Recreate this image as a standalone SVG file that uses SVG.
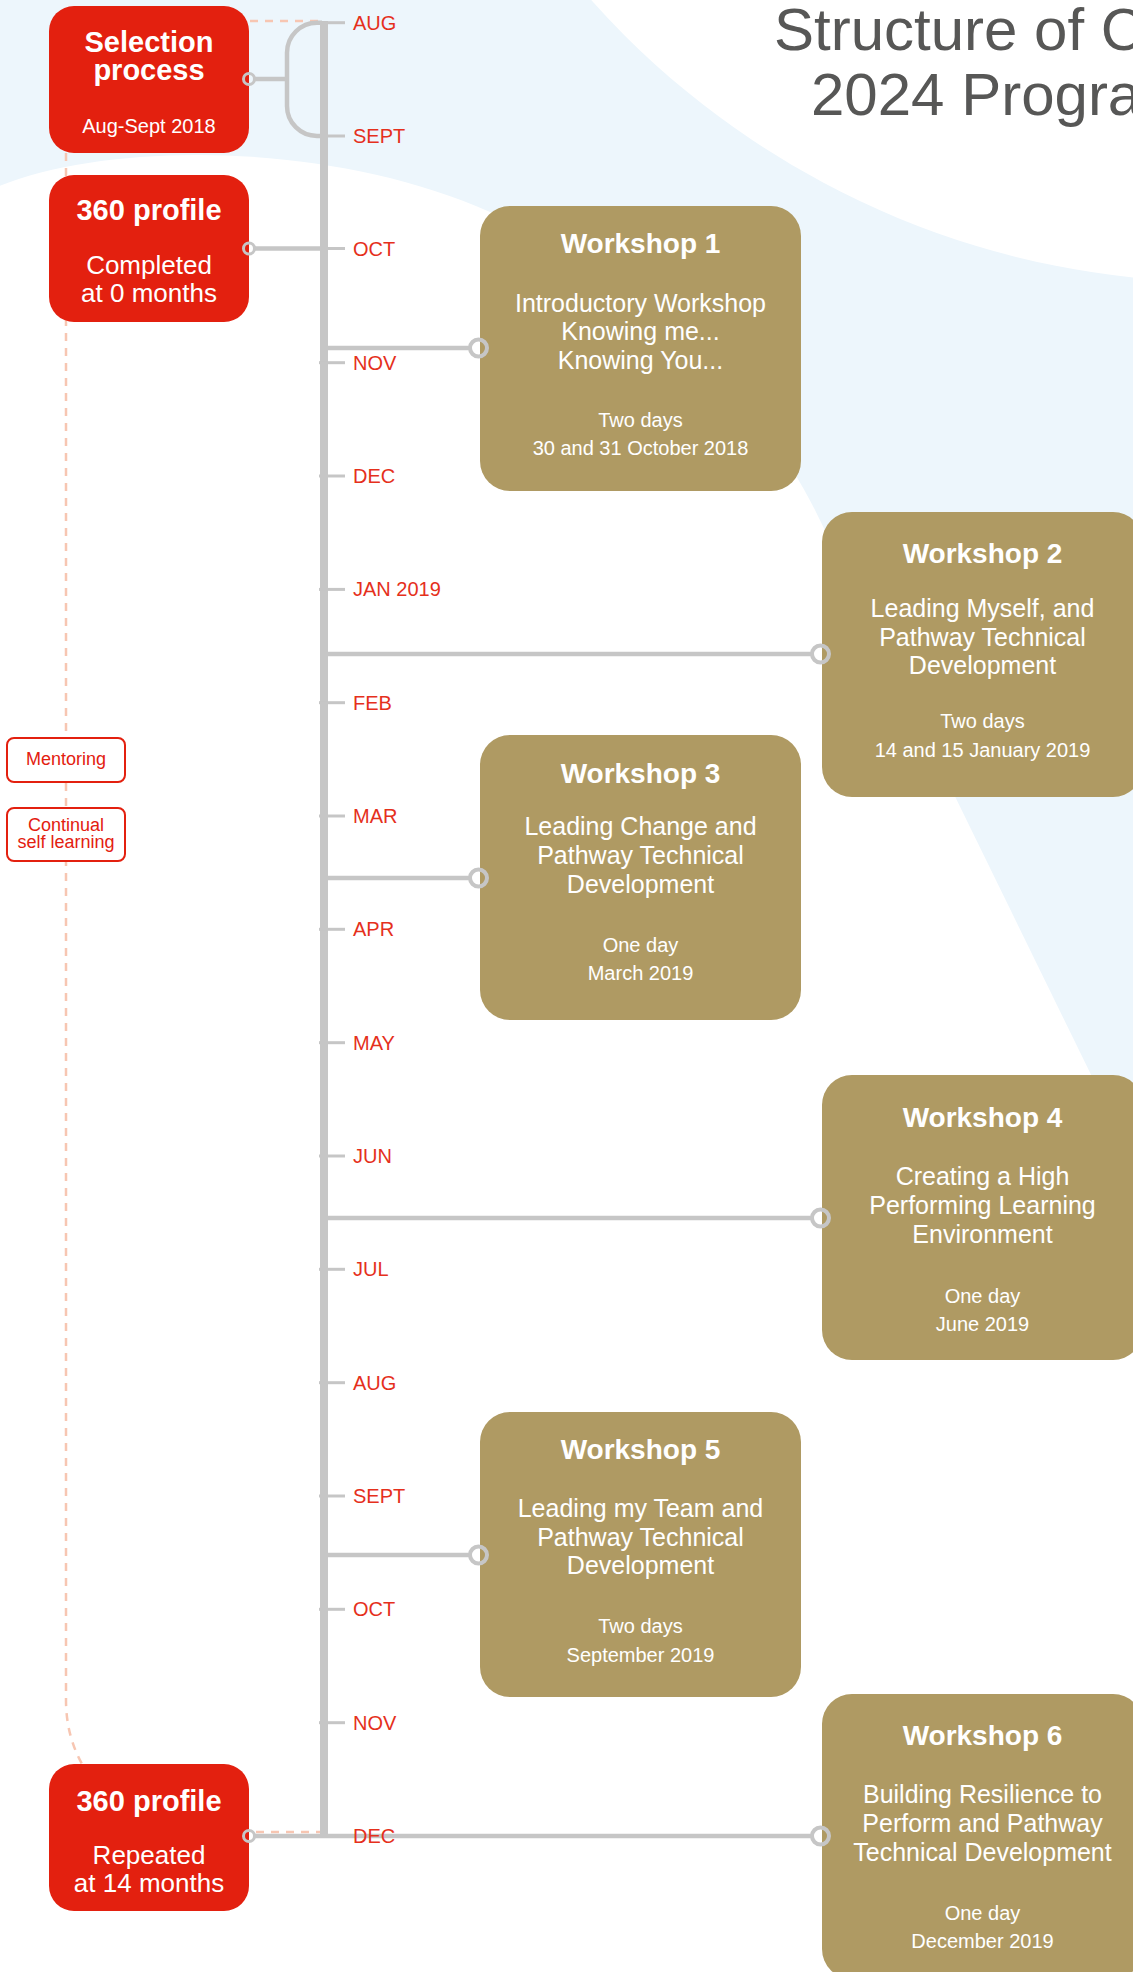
<svg xmlns="http://www.w3.org/2000/svg" width="1133" height="1972" viewBox="0 0 1133 1972">
<style>
text{font-family:"Liberation Sans",Arial,sans-serif;}
.red{fill:#e3200f;}
.gold{fill:#af9a63;}
.wt{fill:#fff;text-anchor:middle;}
.rt{font-weight:bold;font-size:29px;}
.rs{font-size:26px;}
.wh{font-weight:bold;font-size:28px;}
.wb{font-size:25px;}
.ws{font-size:20px;}
.mon{fill:#e5301c;font-size:20px;}
.conn{stroke:#c6c6c6;stroke-width:4.5;fill:none;}
.tick{stroke:#c6c6c6;stroke-width:3;}
.ring{stroke:#c6c6c6;fill:none;}
.dash{stroke:#f7c6b2;stroke-width:2.5;fill:none;stroke-dasharray:8 7;}
.tag{fill:#fff;stroke:#e3200f;stroke-width:2;}
.tagt{fill:#e3200f;font-size:18px;text-anchor:middle;}
</style>
<g id="background">
<rect x="0" y="0" width="1133" height="1972" fill="#edf6fc"/>
<circle cx="1220" cy="-560" r="842" fill="#fff"/>
<path d="M -10,190 C 100,140 330,140 490,212 C 640,275 760,400 815,510 L 1250,1400 L 1250,1980 L -10,1980 Z" fill="#fff"/>
</g>
<g id="title" fill="#575756" font-size="60">
<text x="774" y="50">Structure of C</text>
<text x="811" y="115">2024 Progra</text>
</g>
<g id="connectors">
<path class="dash" d="M 250,21 H 318"/>
<path class="dash" d="M 66,153 V 1700 Q 66,1735 82,1764"/>
<path class="dash" d="M 256,1832 H 320"/>
<line x1="324" y1="21" x2="324" y2="1838" stroke="#c6c6c6" stroke-width="8"/>
<g class="tick">
<line x1="319" y1="22.7" x2="345" y2="22.7"/>
<line x1="319" y1="136" x2="345" y2="136"/>
<line x1="319" y1="248.5" x2="345" y2="248.5"/>
<line x1="319" y1="362.7" x2="345" y2="362.7"/>
<line x1="319" y1="476" x2="345" y2="476"/>
<line x1="319" y1="589.4" x2="345" y2="589.4"/>
<line x1="319" y1="702.7" x2="345" y2="702.7"/>
<line x1="319" y1="816" x2="345" y2="816"/>
<line x1="319" y1="929.3" x2="345" y2="929.3"/>
<line x1="319" y1="1042.7" x2="345" y2="1042.7"/>
<line x1="319" y1="1156" x2="345" y2="1156"/>
<line x1="319" y1="1269.3" x2="345" y2="1269.3"/>
<line x1="319" y1="1382.7" x2="345" y2="1382.7"/>
<line x1="319" y1="1496" x2="345" y2="1496"/>
<line x1="319" y1="1609.3" x2="345" y2="1609.3"/>
<line x1="319" y1="1722.7" x2="345" y2="1722.7"/>
<line x1="319" y1="1836" x2="345" y2="1836"/>
</g>
<path class="conn" d="M 255,79 H 287 M 322,22.7 H 317 A 30 30 0 0 0 287,52.7 V 106 A 30 30 0 0 0 317,136 H 322"/>
<path class="conn" d="M 255,248.5 H 324"/>
<path class="conn" d="M 324,348 H 469.5"/>
<path class="conn" d="M 324,654 H 811.5"/>
<path class="conn" d="M 324,878 H 469.5"/>
<path class="conn" d="M 324,1218 H 811.5"/>
<path class="conn" d="M 324,1555 H 469.5"/>
<path class="conn" d="M 255,1836 H 811.5"/>
<g class="mon">
<text x="353" y="29.5">AUG</text>
<text x="353" y="143">SEPT</text>
<text x="353" y="255.5">OCT</text>
<text x="353" y="369.7">NOV</text>
<text x="353" y="483">DEC</text>
<text x="353" y="596.4">JAN 2019</text>
<text x="353" y="709.7">FEB</text>
<text x="353" y="823">MAR</text>
<text x="353" y="936.3">APR</text>
<text x="353" y="1049.7">MAY</text>
<text x="353" y="1163">JUN</text>
<text x="353" y="1276.3">JUL</text>
<text x="353" y="1389.7">AUG</text>
<text x="353" y="1503">SEPT</text>
<text x="353" y="1616.3">OCT</text>
<text x="353" y="1729.7">NOV</text>
<text x="353" y="1843">DEC</text>
</g>
</g>
<g id="selection">
<rect class="red" x="49" y="6" width="200" height="147" rx="25"/>
<text class="wt rt"><tspan x="149" y="52">Selection</tspan><tspan x="149" y="80">process</tspan></text>
<text class="wt" x="149" y="133" font-size="20">Aug-Sept 2018</text>
<circle class="ring" cx="249" cy="79" r="5.5" stroke-width="3"/>
</g>
<g id="profile1">
<rect class="red" x="49" y="175" width="200" height="147" rx="25"/>
<text class="wt rt" x="149" y="220">360 profile</text>
<text class="wt rs"><tspan x="149" y="274">Completed</tspan><tspan x="149" y="302">at 0 months</tspan></text>
<circle class="ring" cx="249" cy="248.5" r="5.5" stroke-width="3"/>
</g>
<g id="profile2">
<rect class="red" x="49" y="1764" width="200" height="147" rx="25"/>
<text class="wt rt" x="149" y="1811">360 profile</text>
<text class="wt rs"><tspan x="149" y="1864">Repeated</tspan><tspan x="149" y="1892">at 14 months</tspan></text>
<circle class="ring" cx="249" cy="1836" r="5.5" stroke-width="3"/>
</g>
<g id="mentoring">
<rect class="tag" x="7" y="738" width="118" height="44" rx="7"/>
<text class="tagt" x="66" y="765">Mentoring</text>
</g>
<g id="selflearning">
<rect class="tag" x="7" y="808" width="118" height="53" rx="7"/>
<text class="tagt"><tspan x="66" y="831">Continual</tspan><tspan x="66" y="848">self learning</tspan></text>
</g>
<g id="workshop1">
<rect class="gold" x="480" y="206" width="321" height="285" rx="30"/>
<text class="wt wh" x="640.5" y="253">Workshop 1</text>
<text class="wt wb"><tspan x="640.5" y="311.7">Introductory Workshop</tspan><tspan x="640.5" y="340">Knowing me...</tspan><tspan x="640.5" y="369.3">Knowing You...</tspan></text>
<text class="wt ws"><tspan x="640.5" y="426.7">Two days</tspan><tspan x="640.5" y="455">30 and 31 October 2018</tspan></text>
<circle class="ring" cx="478.5" cy="348" r="8.5" stroke-width="4"/>
</g>
<g id="workshop2">
<rect class="gold" x="822" y="512" width="321" height="285" rx="30"/>
<text class="wt wh" x="982.5" y="563.3">Workshop 2</text>
<text class="wt wb"><tspan x="982.5" y="616.7">Leading Myself, and</tspan><tspan x="982.5" y="645.7">Pathway Technical</tspan><tspan x="982.5" y="674.3">Development</tspan></text>
<text class="wt ws"><tspan x="982.5" y="728.3">Two days</tspan><tspan x="982.5" y="756.7">14 and 15 January 2019</tspan></text>
<circle class="ring" cx="820.5" cy="654" r="8.5" stroke-width="4"/>
</g>
<g id="workshop3">
<rect class="gold" x="480" y="735" width="321" height="285" rx="30"/>
<text class="wt wh" x="640.5" y="782.7">Workshop 3</text>
<text class="wt wb"><tspan x="640.5" y="835">Leading Change and</tspan><tspan x="640.5" y="864.3">Pathway Technical</tspan><tspan x="640.5" y="893.3">Development</tspan></text>
<text class="wt ws"><tspan x="640.5" y="951.7">One day</tspan><tspan x="640.5" y="980">March 2019</tspan></text>
<circle class="ring" cx="478.5" cy="878" r="8.5" stroke-width="4"/>
</g>
<g id="workshop4">
<rect class="gold" x="822" y="1075" width="321" height="285" rx="30"/>
<text class="wt wh" x="982.5" y="1127.3">Workshop 4</text>
<text class="wt wb"><tspan x="982.5" y="1185">Creating a High</tspan><tspan x="982.5" y="1214.3">Performing Learning</tspan><tspan x="982.5" y="1243.3">Environment</tspan></text>
<text class="wt ws"><tspan x="982.5" y="1302.7">One day</tspan><tspan x="982.5" y="1331">June 2019</tspan></text>
<circle class="ring" cx="820.5" cy="1218" r="8.5" stroke-width="4"/>
</g>
<g id="workshop5">
<rect class="gold" x="480" y="1412" width="321" height="285" rx="30"/>
<text class="wt wh" x="640.5" y="1459">Workshop 5</text>
<text class="wt wb"><tspan x="640.5" y="1516.7">Leading my Team and</tspan><tspan x="640.5" y="1546">Pathway Technical</tspan><tspan x="640.5" y="1574.4">Development</tspan></text>
<text class="wt ws"><tspan x="640.5" y="1632.8">Two days</tspan><tspan x="640.5" y="1662">September 2019</tspan></text>
<circle class="ring" cx="478.5" cy="1555" r="8.5" stroke-width="4"/>
</g>
<g id="workshop6">
<rect class="gold" x="822" y="1694" width="321" height="285" rx="30"/>
<text class="wt wh" x="982.5" y="1744.8">Workshop 6</text>
<text class="wt wb"><tspan x="982.5" y="1803">Building Resilience to</tspan><tspan x="982.5" y="1832.3">Perform and Pathway</tspan><tspan x="982.5" y="1860.8">Technical Development</tspan></text>
<text class="wt ws"><tspan x="982.5" y="1919.9">One day</tspan><tspan x="982.5" y="1948">December 2019</tspan></text>
<circle class="ring" cx="820.5" cy="1836" r="8.5" stroke-width="4"/>
</g>
</svg>
